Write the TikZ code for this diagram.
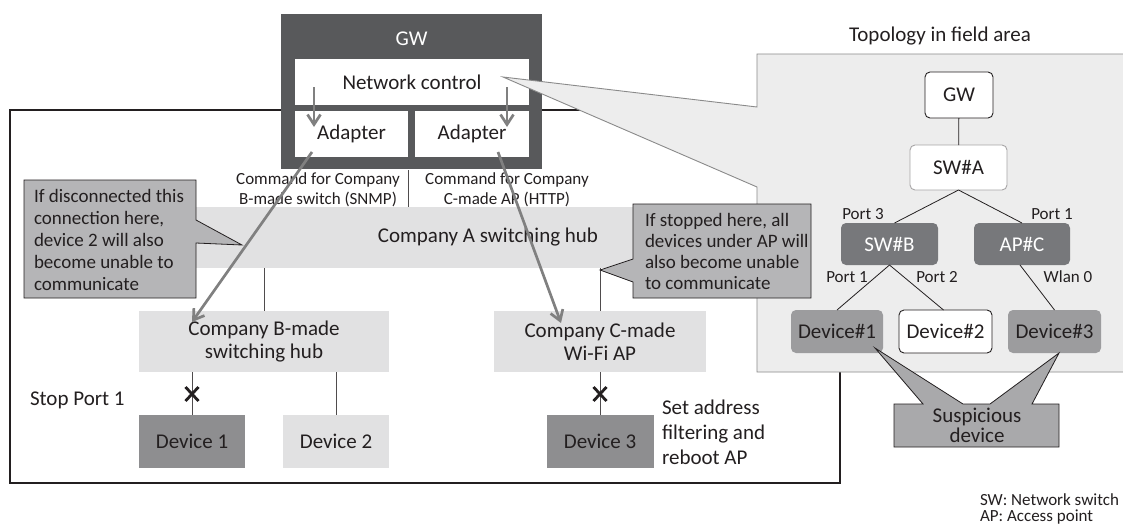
\documentclass[tikz,border=0pt]{standalone}
\usepackage{fontspec}
\setmainfont{Carlito}
\usetikzlibrary{arrows.meta,calc}
\definecolor{gwdark}{HTML}{58595B}
\definecolor{nodedark}{HTML}{77787B}
\definecolor{devgray}{HTML}{8E8E90}
\definecolor{tdevgray}{HTML}{9C9C9E}
\definecolor{callout}{HTML}{B5B5B7}
\definecolor{sus}{HTML}{A9A9AB}
\definecolor{lightbox}{HTML}{E1E1E2}
\definecolor{panelfill}{HTML}{EDEDED}
\definecolor{panelline}{HTML}{8A8A8A}
\definecolor{txt}{HTML}{231F20}
\definecolor{arrowgray}{HTML}{808080}
\tikzset{
  mainfont/.style={font=\fontsize{21}{23}\selectfont},
  smallfont/.style={font=\fontsize{17}{20}\selectfont},
  flatbox/.style={inner sep=0pt, outer sep=0pt, align=center, text=txt, mainfont},
  lightnode/.style={flatbox, fill=lightbox},
  devnode/.style={flatbox, fill=devgray},
  topo/.style={flatbox, rounded corners=5pt, line width=0.9pt, minimum height=44, minimum width=97},
  garrow/.style={draw=arrowgray, line width=2.7pt, -{Straight Barb[length=10pt,width=13pt]}},
  conn/.style={draw=txt!80, line width=0.8pt},
  tconn/.style={draw=txt, line width=0.8pt},
  xmark/.style={draw=txt, line width=2.8pt},
}
\begin{document}
\begin{tikzpicture}[x=1pt,y=-1pt]
\useasboundingbox (0,0) rectangle (1123,525);
\fill[white] (0,0) rectangle (1123,525);

% outer frame
\draw[line width=2pt, draw=txt] (9.5,110) rectangle (840,483);

% Company A switching hub band
\node[lightnode, minimum width=644, minimum height=61] (hubA) at (488,237.5) {Company A switching hub};

% GW block
\node[flatbox, fill=gwdark, minimum width=261, minimum height=155] (gw) at (411.5,91.5) {};
\node[flatbox, text=white] (gwlabel) at (411.5,39) {GW};
\node[flatbox, fill=white, minimum width=234, minimum height=46] (netctl) at (412,82) {Network control};
\node[flatbox, fill=white, minimum width=113, minimum height=46] (adL) at (351.5,134) {Adapter};
\node[flatbox, fill=white, minimum width=114, minimum height=46] (adR) at (472,134) {Adapter};
\coordinate (ctlL) at (314,87);
\coordinate (adLin) at (314,127);
\coordinate (ctlR) at (507,87);
\coordinate (adRin) at (507,127);
\draw[garrow] (ctlL) -- (adLin);
\draw[garrow] (ctlR) -- (adRin);

% command labels
\node[flatbox, smallfont] (cmdB) at (318,190) {Command for Company\\B-made switch (SNMP)};
\node[flatbox, smallfont] (cmdC) at (507,190) {Command for Company\\C-made AP (HTTP)};
\coordinate (divT) at (408,170);
\coordinate (divB) at (408,207);
\draw[conn] (divT) -- (divB);

% lower devices
\node[lightnode, minimum width=250, minimum height=61] (hubB) at (264,341.5) {Company B-made\\switching hub};
\node[lightnode, minimum width=212, minimum height=61] (hubC) at (600,341.5) {Company C-made\\Wi-Fi AP};
\node[devnode, minimum width=106, minimum height=53] (d1) at (192,441.5) {Device 1};
\node[lightnode, minimum width=106, minimum height=53] (d2) at (336,441.5) {Device 2};
\node[devnode, minimum width=107, minimum height=53] (d3) at (600,441.5) {Device 3};
\draw[conn] (hubB.north |- hubA.south) -- (hubB.north);
\draw[conn] (hubC.north |- hubA.south) -- (hubC.north);
\draw[conn] (d1.north |- hubB.south) -- (d1.north);
\draw[conn] (d2.north |- hubB.south) -- (d2.north);
\draw[conn] (hubC.south) -- (d3.north);
\coordinate (x1) at (192,394);
\coordinate (x3) at (600,394);
\draw[xmark] ($(x1)+(-6.5,-7)$) -- ($(x1)+(6.5,7)$) ($(x1)+(6.5,-7)$) -- ($(x1)+(-6.5,7)$);
\draw[xmark] ($(x3)+(-6.5,-7)$) -- ($(x3)+(6.5,7)$) ($(x3)+(6.5,-7)$) -- ($(x3)+(-6.5,7)$);
\node[flatbox, anchor=west] (stop) at (30,400) {Stop Port 1};
\node[flatbox, anchor=west, align=left, font=\fontsize{21}{25}\selectfont] (setaddr) at (662,432) {Set address\\filtering and\\reboot AP};

% left callout
\path[fill=callout, draw=txt, line width=0.8pt] (24,180) -- (196,180) -- (196,220) -- (242,245) -- (196,243) -- (196,298) -- (24,298) -- cycle;
\node[flatbox, anchor=west, align=left, font=\fontsize{19}{22}\selectfont] (lco) at (34,240) {If disconnected this\\connection here,\\device 2 will also\\become unable to\\communicate};

% command arrows
\coordinate (adLout) at (312,152);
\coordinate (bIn) at (192,322);
\coordinate (adRout) at (498,152);
\coordinate (cIn) at (561,323);
\draw[garrow] (adLout) -- (bIn);
\draw[garrow] (adRout) -- (cIn);

% topology panel (callout from Network control)
\path[fill=panelfill, draw=panelline, line width=0.9pt] (757,54) -- (1125,54) -- (1125,372) -- (757,372) -- (757,187) -- (503,77) -- (757,107) -- cycle;
\node[flatbox] (topotitle) at (940,36) {Topology in field area};

% right callout
\path[fill=callout, draw=txt, line width=0.8pt] (633,204) -- (811,204) -- (811,298) -- (633,298) -- (633,282) -- (600,270) -- (633,259) -- cycle;
\node[flatbox, anchor=west, align=left, font=\fontsize{19}{21}\selectfont] (rco) at (645,251) {If stopped here, all\\devices under AP will\\also become unable\\to communicate};

% topology nodes
\node[topo, draw=txt, fill=white, minimum width=68, minimum height=46] (tgw) at (959,95) {GW};
\node[topo, draw=txt!40, fill=white, minimum height=45] (swa) at (958.5,167.5) {SW\#A};
\node[topo, fill=nodedark, text=white, minimum height=42] (swb) at (889.5,244) {SW\#B};
\node[topo, fill=nodedark, text=white, minimum width=96, minimum height=42] (apc) at (1022,244) {AP\#C};
\node[topo, fill=tdevgray, minimum width=92, minimum height=43] (dev1) at (837,331.5) {Device\#1};
\node[topo, draw=txt, fill=white, minimum width=93, minimum height=43] (dev2) at (945.5,331.5) {Device\#2};
\node[topo, fill=tdevgray, minimum width=93, minimum height=43] (dev3) at (1054.5,331.5) {Device\#3};
\draw[tconn] (tgw) -- (swa);
\draw[tconn] (swa.south) -- ($(swb.north)+(5,0)$);
\draw[tconn] (swa.south) -- (apc.north);
\draw[tconn] (swb.south) -- (dev1.north);
\draw[tconn] (swb.south) -- ($(dev2.north)+(-2,0)$);
\draw[tconn] ($(apc.south)+(-2,0)$) -- (dev3.north);
\node[flatbox, smallfont] (p3) at (863,214) {Port 3};
\node[flatbox, smallfont] (p1a) at (1052,214) {Port 1};
\node[flatbox, smallfont] (p1b) at (847,277) {Port 1};
\node[flatbox, smallfont] (p2) at (937,277) {Port 2};
\node[flatbox, smallfont] (wl) at (1068,277) {Wlan 0};

% suspicious device callout
\path[fill=sus, draw=txt, line width=0.8pt] (894,404) -- (923,404) -- (875,348) -- (963,404) -- (990,404) -- (1059,353) -- (1032,404) -- (1059,404) -- (1059,447) -- (894,447) -- cycle;
\node[flatbox, font=\fontsize{21}{20}\selectfont] (sustxt) at (977,425) {Suspicious\\device};

% legend
\node[flatbox, smallfont, anchor=west] (leg1) at (980,500) {SW: Network switch};
\node[flatbox, smallfont, anchor=west] (leg2) at (980,517) {AP: Access point};
\end{tikzpicture}
\end{document}
